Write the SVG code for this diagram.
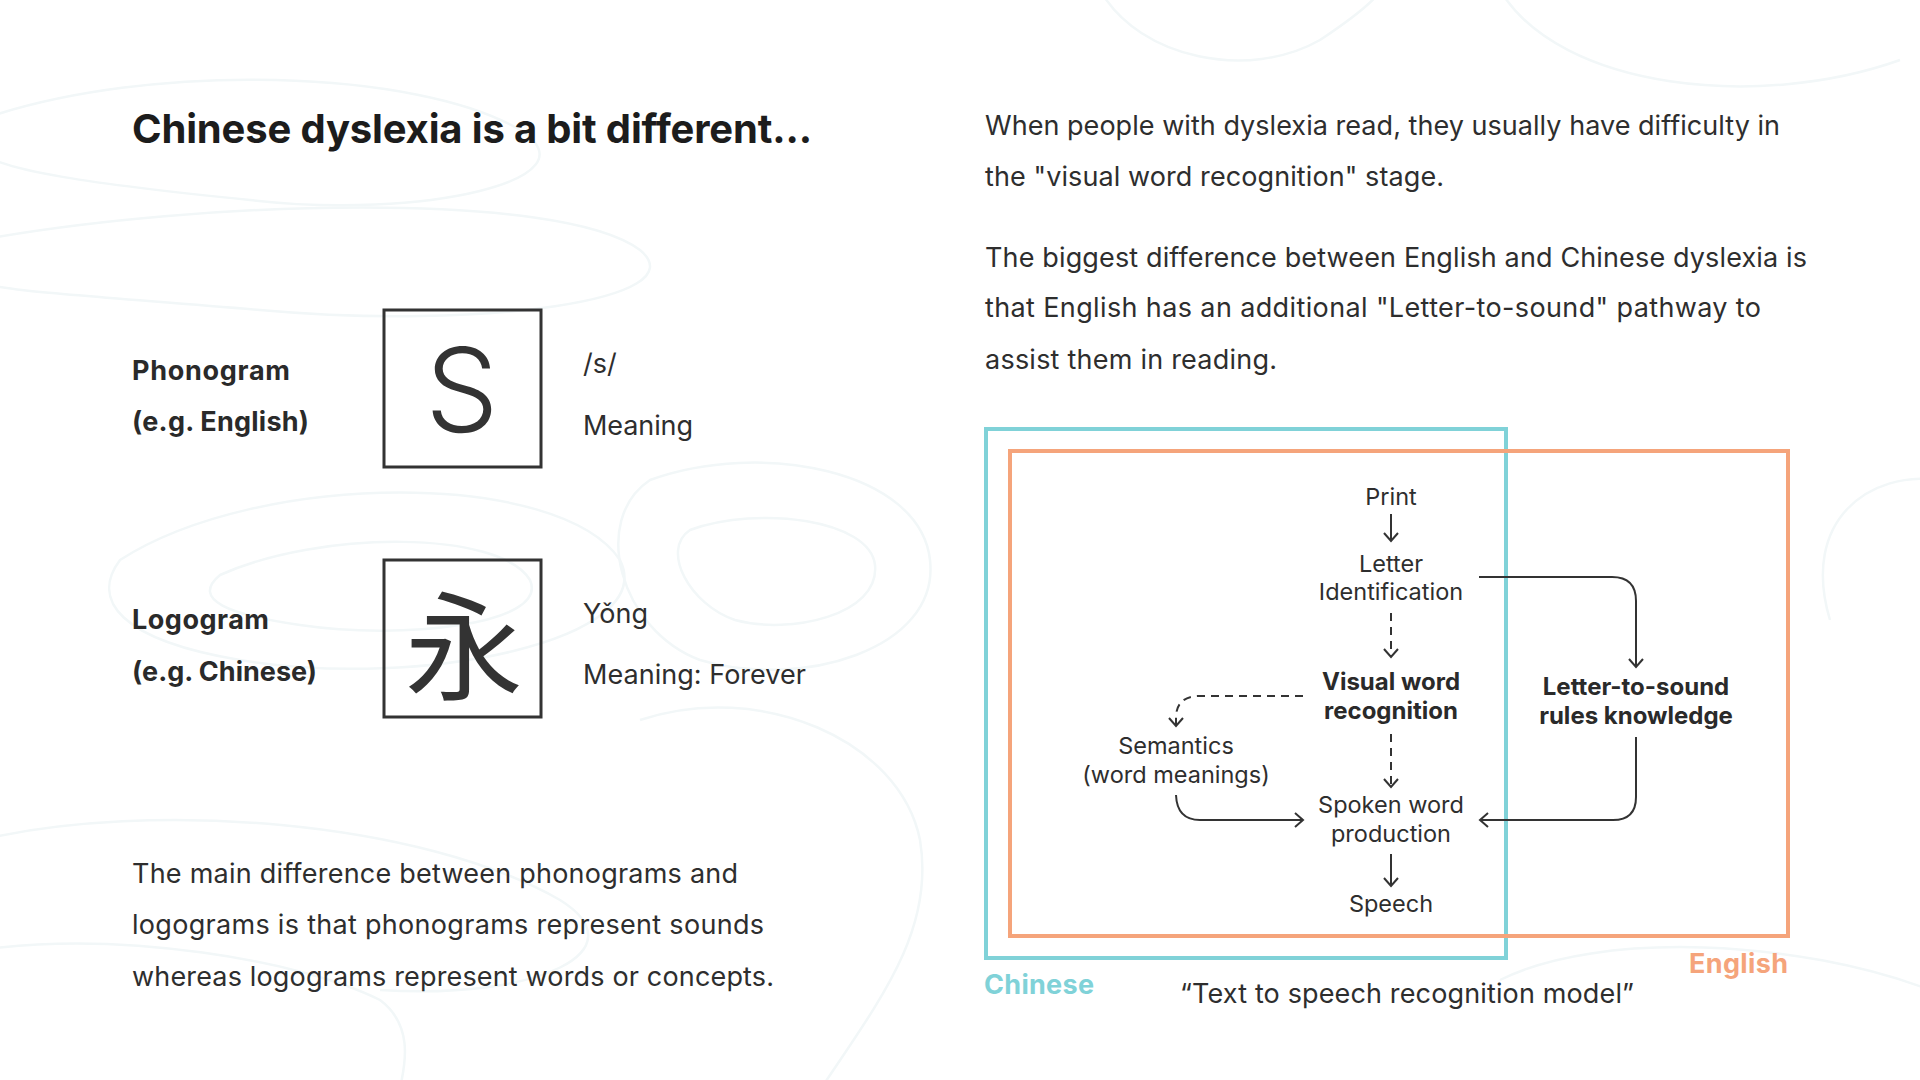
<svg xmlns="http://www.w3.org/2000/svg" width="1920" height="1080" viewBox="0 0 1920 1080">
<style>
  .bg { fill: none; stroke: #f2f7f8; stroke-width: 2.5; }
  .title { font-family: Inter, "Liberation Sans", sans-serif; font-weight: 700; font-size: 40px; fill: #1c1c1c; }
  .body { font-family: Inter, "Liberation Sans", sans-serif; font-size: 27px; fill: #2e2e2e; }
  .bold { font-family: Inter, "Liberation Sans", sans-serif; font-weight: 700; font-size: 27px; fill: #2a2a2a; }
  .dg { font-family: Inter, "Liberation Sans", sans-serif; font-size: 23.5px; fill: #2e2e2e; text-anchor: middle; }
  .dgb { font-family: Inter, "Liberation Sans", sans-serif; font-weight: 700; font-size: 24px; fill: #2a2a2a; text-anchor: middle; }
  .box { fill: none; stroke: #333333; stroke-width: 3; }
  .conn { fill: none; stroke: #333333; stroke-width: 2; }
  .dash { stroke-dasharray: 8 6; }
  .cyan { fill: none; stroke: #80d2d8; stroke-width: 4; }
  .orange { fill: none; stroke: #f5a47b; stroke-width: 4; }
</style>
<defs>
  <marker id="arr" markerUnits="userSpaceOnUse" markerWidth="16" markerHeight="16" viewBox="0 0 16 16" refX="14" refY="8" orient="auto">
    <path d="M6,1 L14,8 L6,15" fill="none" stroke="#333333" stroke-width="2" stroke-dasharray="none"/>
  </marker>
</defs>
<rect width="1920" height="1080" fill="#ffffff"/>
<g id="background">
  <path class="bg" d="M-20,120 C150,60 420,70 520,130 C600,180 420,220 250,200 C100,185 -10,170 -20,150"/>
  <path class="bg" d="M-20,240 C200,200 560,190 640,250 C700,300 480,330 260,310 C80,295 -20,290 -20,280"/>
  <path class="bg" d="M120,560 C260,470 560,470 620,560 C660,640 420,690 240,660 C120,640 90,600 120,560 Z"/>
  <path class="bg" d="M220,575 C320,530 500,530 530,580 C550,625 400,640 300,625 C230,615 190,600 220,575 Z"/>
  <path class="bg" d="M650,480 C760,440 920,470 930,560 C940,650 800,690 700,660 C620,630 590,520 650,480 Z"/>
  <path class="bg" d="M690,530 C760,505 870,520 875,565 C880,615 790,635 735,620 C690,605 660,550 690,530 Z"/>
  <path class="bg" d="M1100,-10 C1140,60 1250,80 1320,40 C1380,0 1380,-10 1380,-10"/>
  <path class="bg" d="M1500,-10 C1560,90 1760,110 1900,60"/>
  <path class="bg" d="M-20,840 C150,800 420,820 560,900 C640,950 540,1000 380,990"/>
  <path class="bg" d="M-20,950 C120,930 300,960 380,1000 C420,1030 400,1080 400,1090"/>
  <path class="bg" d="M640,720 C760,680 900,740 920,840 C935,930 880,1000 820,1090"/>
  <path class="bg" d="M1500,980 C1600,930 1800,940 1930,990"/>
  <path class="bg" d="M1830,620 C1800,520 1870,470 1940,480"/>
</g>

<g id="title">
  <text class="title" x="132" y="143" textLength="680">Chinese dyslexia is a bit different...</text>
</g>

<g id="intro-text">
  <text class="body" x="985" y="135" textLength="795">When people with dyslexia read, they usually have difficulty in</text>
  <text class="body" x="985" y="186" textLength="459">the "visual word recognition" stage.</text>
  <text class="body" x="985" y="267" textLength="822">The biggest difference between English and Chinese dyslexia is</text>
  <text class="body" x="985" y="317" textLength="776">that English has an additional "Letter-to-sound" pathway to</text>
  <text class="body" x="985" y="369" textLength="292">assist them in reading.</text>
</g>

<g id="phonogram">
  <text class="bold" x="132" y="380" textLength="158">Phonogram</text>
  <text class="bold" x="132" y="431" textLength="177">(e.g. English)</text>
  <rect class="box" x="384" y="310" width="157" height="157"/>
  <text x="462" y="432" text-anchor="middle" font-family="Inter, 'Liberation Sans', sans-serif" font-weight="300" font-size="116" fill="#333333">S</text>
  <text class="body" x="583" y="373">/s/</text>
  <text class="body" x="583" y="435" textLength="110">Meaning</text>
</g>

<g id="logogram">
  <text class="bold" x="132" y="629" textLength="137">Logogram</text>
  <text class="bold" x="132" y="681" textLength="185">(e.g. Chinese)</text>
  <rect class="box" x="384" y="560" width="157" height="157"/>
  <text x="464" y="639" text-anchor="middle" dominant-baseline="central" font-family="'Noto Sans CJK SC', 'Noto Sans CJK TC', sans-serif" font-size="118" fill="#333333">永</text>
  <text class="body" x="583" y="623" textLength="65">Yǒng</text>
  <text class="body" x="583" y="684" textLength="223">Meaning: Forever</text>
</g>

<g id="summary-text">
  <text class="body" x="132" y="883" textLength="606">The main difference between phonograms and</text>
  <text class="body" x="132" y="934" textLength="632">logograms is that phonograms represent sounds</text>
  <text class="body" x="132" y="986" textLength="642">whereas logograms represent words or concepts.</text>
</g>

<g id="region-chinese">
  <rect class="cyan" x="986" y="429" width="520" height="529"/>
  <text x="984" y="994" font-family="Inter, 'Liberation Sans', sans-serif" font-weight="700" font-size="27" fill="#80d2d8" textLength="110">Chinese</text>
</g>
<g id="region-english">
  <rect class="orange" x="1010" y="451" width="778" height="485"/>
  <text x="1788" y="973" text-anchor="end" font-family="Inter, 'Liberation Sans', sans-serif" font-weight="700" font-size="27" fill="#f5a47b" textLength="99">English</text>
</g>

<g id="node-print"><text class="dg" x="1391" y="505">Print</text></g>
<g id="node-letter-id">
  <text class="dg" x="1391" y="572">Letter</text>
  <text class="dg" x="1391" y="600">Identification</text>
</g>
<g id="node-visual-word">
  <text class="dgb" x="1391" y="690">Visual word</text>
  <text class="dgb" x="1391" y="719">recognition</text>
</g>
<g id="node-semantics">
  <text class="dg" x="1176" y="754">Semantics</text>
  <text class="dg" x="1176" y="783">(word meanings)</text>
</g>
<g id="node-letter-to-sound">
  <text class="dgb" x="1636" y="695">Letter-to-sound</text>
  <text class="dgb" x="1636" y="724">rules knowledge</text>
</g>
<g id="node-spoken">
  <text class="dg" x="1391" y="813">Spoken word</text>
  <text class="dg" x="1391" y="842">production</text>
</g>
<g id="node-speech"><text class="dg" x="1391" y="912">Speech</text></g>

<g id="connectors">
  <line class="conn" x1="1391" y1="514" x2="1391" y2="541" marker-end="url(#arr)"/>
  <line class="conn dash" x1="1391" y1="613" x2="1391" y2="657" marker-end="url(#arr)"/>
  <line class="conn dash" x1="1391" y1="734" x2="1391" y2="787" marker-end="url(#arr)"/>
  <line class="conn" x1="1391" y1="854" x2="1391" y2="886" marker-end="url(#arr)"/>
  <path class="conn dash" d="M1303,696 H1198 Q1177,697 1176,716 V726" marker-end="url(#arr)"/>
  <path class="conn" d="M1176,795 Q1177,820 1200,820 H1303" marker-end="url(#arr)"/>
  <path class="conn" d="M1479,577 H1612 Q1636,577 1636,601 V667" marker-end="url(#arr)"/>
  <path class="conn" d="M1636,737 V797 Q1636,820 1613,820 H1480" marker-end="url(#arr)"/>
</g>

<g id="caption">
  <text class="body" x="1407" y="1003" text-anchor="middle" textLength="454">“Text to speech recognition model”</text>
</g>
</svg>
